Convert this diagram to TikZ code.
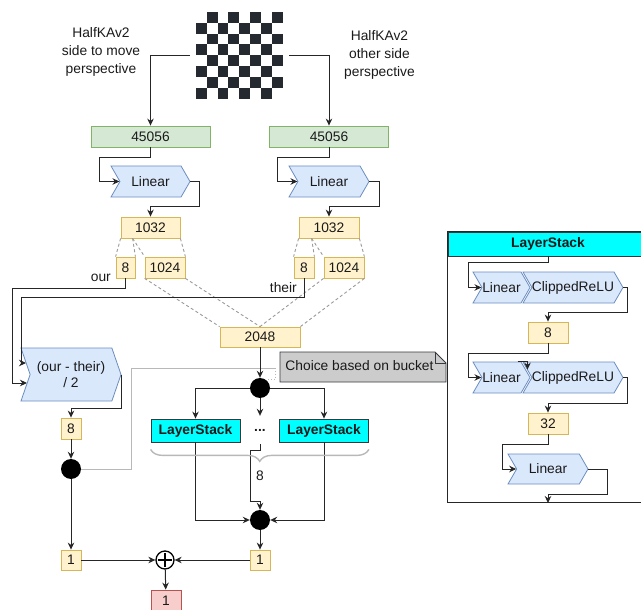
\documentclass[tikz,border=0pt]{standalone}
\usepackage{fontspec}
\setmainfont{Liberation Sans}
\usetikzlibrary{arrows.meta,shapes.symbols,decorations.pathreplacing}

\begin{document}
\begin{tikzpicture}[x=1pt,y=-1pt,
  every node/.style={font=\fontsize{13.8}{18}\selectfont, text=myText, inner sep=0pt},
  arr/.style={draw=myLine, line width=1pt, -{Stealth[length=7pt,width=6.5pt]}},
  split/.style={draw=myGray, line width=0.9pt, dash pattern=on 3pt off 2.5pt},
  link/.style={draw=myLight, line width=0.9pt},
  inbox/.style={draw=myGreenLine, fill=myGreenFill, line width=0.8pt, minimum width=119, minimum height=21},
  numbox/.style={draw=myYellowLine, fill=myYellowFill, line width=0.8pt, minimum height=21},
  outbox/.style={draw=myRedLine, fill=myRedFill, line width=0.8pt, minimum width=30, minimum height=21},
  chev/.style={shape=signal, signal from=west, signal to=east, signal pointer angle=120,
    draw=myBlueLine, fill=myBlueFill, line width=0.8pt, minimum height=31},
  lsbox/.style={draw=myDarkLine, fill=myCyan, line width=0.8pt, minimum width=89, minimum height=23,
    font=\fontsize{13.8}{18}\selectfont\bfseries},
  dot/.style={circle, fill=black, minimum size=20},
]
% Colors define
\definecolor{myText}{HTML}{1A1A1A}
\definecolor{myLine}{HTML}{262626}
\definecolor{myGray}{HTML}{9A9A9A}
\definecolor{myLight}{HTML}{B8B8B8}
\definecolor{myDark}{HTML}{252A30}
\definecolor{myDarkLine}{HTML}{36393D}
\definecolor{myGreenFill}{HTML}{D5E8D4}
\definecolor{myGreenLine}{HTML}{82B366}
\definecolor{myBlueFill}{HTML}{DAE8FC}
\definecolor{myBlueLine}{HTML}{6C8EBF}
\definecolor{myYellowFill}{HTML}{FFF2CC}
\definecolor{myYellowLine}{HTML}{D6B656}
\definecolor{myRedFill}{HTML}{F8CECC}
\definecolor{myRedLine}{HTML}{B85450}
\definecolor{myCyan}{HTML}{00FFFF}
\definecolor{myNote}{HTML}{CCCCCC}

\useasboundingbox (0,0) rectangle (641,610);

% Chess board
\node[minimum size=87] (board) at (239.5,55.5) {};
\foreach \r in {0,...,7}
  \foreach \c in {0,2,4,6} {
    \pgfmathsetmacro\cc{\c+mod(\r+1,2)}
    \fill[myDark] ([shift={(\cc*10.875,\r*10.875)}]board.north west) rectangle ++(10.875,10.875);
  }

% Perspective labels
\node[align=center] (stmLabel) at (101,52) {HalfKAv2\\side to move\\perspective};
\node[align=center] (nstmLabel) at (379.5,55) {HalfKAv2\\other side\\perspective};

% Feature transformer, both sides
\node[inbox] (inL) at (150.5,136.5) {45056};
\node[inbox] (inR) at (329,136.5) {45056};
\node[chev, minimum width=79] (linL) at (150.5,181.5) {Linear};
\node[chev, minimum width=80] (linR) at (329,181.5) {Linear};
\node[numbox, minimum width=59] (hidL) at (150.5,227.5) {1032};
\node[numbox, minimum width=60] (hidR) at (329,227.5) {1032};
\node[numbox, minimum width=19] (psqtL) at (125.5,267.5) {8};
\node[numbox, minimum width=40] (accL) at (165,267.5) {1024};
\node[numbox, minimum width=20] (psqtR) at (304,267.5) {8};
\node[numbox, minimum width=40] (accR) at (344,267.5) {1024};
\node[numbox, minimum width=80, minimum height=20] (cat) at (260,337) {2048};

\draw[arr] ([xshift=-6]board.west) -| (inL.north);
\draw[arr] ([xshift=6]board.east) -| (inR.north);
\draw[arr] (inL.south) -- ++(0,10) -| ([xshift=-20]linL.west) -- (linL.west);
\draw[arr] (inR.south) -- ++(0,10) -| ([xshift=-20]linR.west) -- (linR.west);
\draw[arr] (linL.east) -- ++(9,0) -- ++(0,24.5) -| (hidL.north);
\draw[arr] (linR.east) -- ++(10,0) -- ++(0,24.5) -| (hidR.north);

% Splitting 1032 into 8 + 1024
\draw[split] (hidL.south west) -- (psqtL.north west);
\draw[split] ([xshift=12]hidL.south west) -- (psqtL.north east);
\draw[split] ([xshift=12]hidL.south west) -- (accL.north west);
\draw[split] (hidL.south east) -- (accL.north east);
\draw[split] (hidR.south west) -- (psqtR.north west);
\draw[split] ([xshift=13]hidR.south west) -- (psqtR.north east);
\draw[split] ([xshift=13]hidR.south west) -- (accR.north west);
\draw[split] (hidR.south east) -- (accR.north east);
\draw[split] (accL.south west) -- (cat.north west);
\draw[split] (accL.south east) -- (cat.north);
\draw[split] (accR.south west) -- (cat.north);
\draw[split] (accR.south east) -- (cat.north east);

% PSQT part
\node[anchor=east] (ourLabel) at (111,278) {our};
\node[anchor=east] (theirLabel) at (297,288) {their};
\node[chev, minimum width=100, minimum height=53, signal pointer angle=142, align=center,
  font=\fontsize{13.8}{16}\selectfont] (divL) at (71,374.5) {(our - their)\\/ 2};
\node[numbox, minimum width=20] (psqt) at (71,428.5) {8};
\node[dot] (psqtDot) at (71,469) {};
\node[numbox, minimum width=20, minimum height=20] (outA) at (71,560) {1};
\coordinate (theirIn) at (26,363);
\coordinate (ourIn) at (27,383);

\draw[arr] (psqtL.south) -- ++(0,10) -| ([xshift=-15]ourIn) -- (ourIn);
\draw[arr] (psqtR.south) -- ++(0,19) -| ([xshift=-4.5]theirIn) -- (theirIn);
\draw[arr] (divL.east) -- ++(0,33.5) -| (psqt.north);
\draw[arr] (psqt) -- (psqtDot);
\draw[arr] (psqtDot) -- (outA);

% Bucket choice
\draw[fill=myNote, draw=myDarkLine, line width=0.8pt] (280,352) -- (435,352) -- (446,363) -- (446,382) -- (280,382) -- cycle;
\draw[draw=myDarkLine, line width=0.8pt] (435,352) -- (435,363) -- (446,363);
\node (note) at (359.5,366) {Choice based on bucket};
\coordinate (noteTail) at (275,368);
\draw[link] (psqtDot.east) -| ++(50,-101) -- (noteTail);
\draw[link, dotted] (noteTail) -- ++(0,11) -- ++(-7,0);

\node[dot] (bucket) at (260,388) {};
\node[lsbox] (lsA) at (195.5,430.5) {LayerStack};
\node[minimum height=28] (dots) at (260,430) {\textbf{...}};
\node[lsbox] (lsB) at (324,430.5) {LayerStack};
\node[dot] (merge) at (260,520) {};
\node[numbox, minimum width=20, minimum height=20] (outB) at (260,560) {1};

\draw[arr] (cat) -- (bucket);
\draw[arr] (bucket) -| (lsA.north);
\draw[arr] (bucket) -| (lsB.north);
\draw[arr] (bucket) -- (dots);
\draw[arr] (lsA) |- (merge);
\draw[arr] (lsB) |- (merge);
\draw[arr] (dots.south) -- ++(0,6) -- ++(-10,0) -- ++(0,51) -- ++(10,0) -- (merge.north);
\draw[arr] (merge) -- (outB);

% Brace over the 8 stacks
\draw[draw=myLight, line width=1.4pt, decorate, decoration={brace, mirror, amplitude=12}]
  ([yshift=-7]lsA.south west) -- ([yshift=-7]lsB.south east);
\node (fanout) at (260,476) {8};

% Sum of both outputs
\node[circle, draw=black, line width=1.3pt, minimum size=18] (sum) at (165,560) {};
\draw[line width=1.3pt] ([yshift=7]sum.center) -- ([yshift=-7]sum.center)
  ([xshift=-7]sum.center) -- ([xshift=7]sum.center);
\node[outbox] (final) at (166,600.5) {1};

\draw[arr] (outA) -- (sum);
\draw[arr] (outB) -- (sum);
\draw[arr] (sum) -- (final);

% LayerStack internals
\node[lsbox, minimum width=200, minimum height=24] (lsHead) at (548,244) {LayerStack};
\draw[draw=myLine, line width=1pt] (lsHead.north west) rectangle ++(200,271);
\node[chev, minimum width=57] (p1lin) at (501.5,287.5) {Linear};
\node[chev, minimum width=100] (p1relu) at (573,287.5) {ClippedReLU};
\node[numbox, minimum width=40] (p8) at (548,332.5) {8};
\node[chev, minimum width=57] (p2lin) at (501.5,377.5) {Linear};
\node[chev, minimum width=100] (p2relu) at (573,377.5) {ClippedReLU};
\node[numbox, minimum width=40] (p32) at (548,423.5) {32};
\node[chev, minimum width=80, minimum height=30] (p3lin) at (548,469) {Linear};
\coordinate (lsOut) at (548,503);

\draw[arr] (lsHead.south) -- ++(0,6) -| ([xshift=-13]p1lin.west) -- (p1lin.west);
\draw[arr] (p1relu.east) -- ++(4,0) -- ++(0,24.5) -| (p8.north);
\draw[arr] (p8.south) -- ++(0,10) -| ([xshift=-13]p2lin.west) -- (p2lin.west);
\draw[arr] ([xshift=16]p2lin.north) -- ++(10,0) -- ++(0,8);
\draw[arr] (p2relu.east) -- ++(4,0) -- ++(0,25.5) -| (p32.north);
\draw[arr] (p32.south) -- ++(0,10) -| ([xshift=-14]p3lin.west) -- (p3lin.west);
\draw[arr] (p3lin.east) -- ++(19,0) -- ++(0,25) -| (lsOut);
\end{tikzpicture}
\end{document}
